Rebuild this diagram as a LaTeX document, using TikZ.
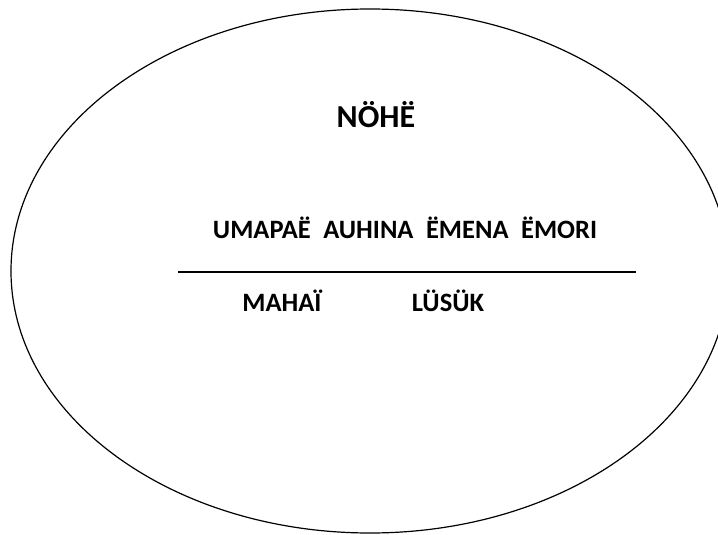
\documentclass[tikz,border=0pt]{standalone}
\usepackage{fontspec}
\setmainfont{Carlito}
\begin{document}
\begin{tikzpicture}[x=1pt,y=-1pt,
  lbl/.style={inner sep=0pt,font=\bfseries\fontsize{26.5}{31}\selectfont,anchor=base},
  title/.style={inner sep=0pt,font=\bfseries\fontsize{32}{38}\selectfont,anchor=base}]
\useasboundingbox (0,0) rectangle (718,535);
\clip (0,0) rectangle (718,535);
\fill[white] (0,0) rectangle (718,535);
\draw[line width=1.2pt] (370,271) ellipse [x radius=359, y radius=262];
\node[title] (t) at (376,127) {NÖHË};
\node[lbl] (l1) at (405,238) {UMAPAË\hspace{12.5pt}AUHINA\hspace{12.5pt}ËMENA\hspace{12.5pt}ËMORI};
\coordinate (a) at (178,272);
\coordinate (b) at (636,272);
\draw[line width=2pt] (a) -- (b);
\node[lbl] (m) at (282,311) {MAHAÏ};
\node[lbl] (s) at (448,311) {LÜSÜK};
\end{tikzpicture}
\end{document}
